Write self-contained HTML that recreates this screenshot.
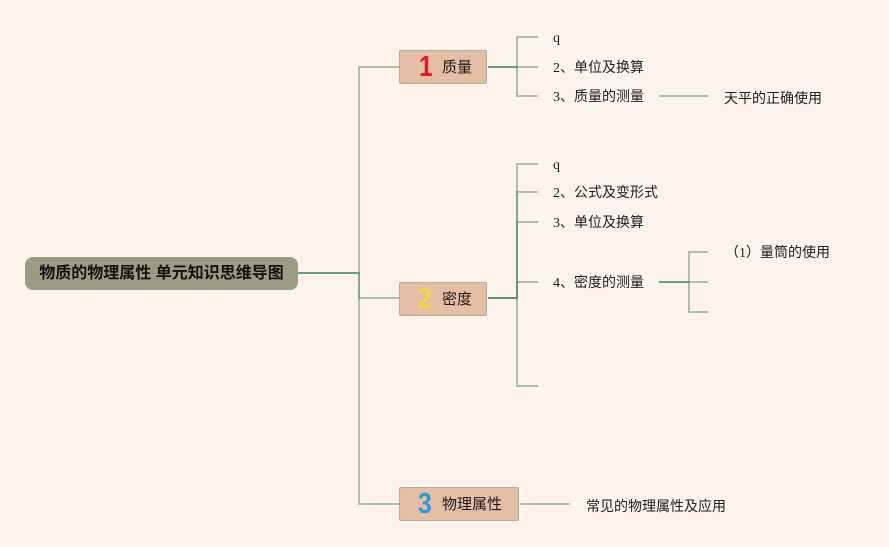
<!DOCTYPE html>
<html>
<head>
<meta charset="utf-8">
<style>
  html,body{margin:0;padding:0;}
  body{width:889px;height:547px;background:#fdf3ea;position:relative;overflow:hidden;
    font-family:"Liberation Serif","Noto Sans CJK SC",sans-serif;color:#1e1e1e;}
  svg{position:absolute;left:0;top:0;}
  .root{position:absolute;left:25px;top:257px;width:273px;height:33px;background:#9b9c83;border-radius:8px;
    font-family:"Liberation Sans","Noto Sans CJK SC",sans-serif;font-weight:700;font-size:16px;line-height:33px;
    text-align:center;color:#111;}
  .node{position:absolute;left:399px;width:86px;height:32px;background:#e6bea6;border:1.5px solid #a3b49f;border-radius:2px;}
  .num{position:absolute;top:0;height:32px;line-height:33px;font-family:"Liberation Sans",sans-serif;font-weight:700;font-size:29px;transform:scaleX(0.85);transform-origin:left center;}
  .nt{position:absolute;top:0;height:32px;line-height:34px;font-family:"Liberation Sans","Noto Sans CJK SC",sans-serif;font-size:15px;color:#1a1a1a;white-space:nowrap;}
  .t{position:absolute;height:20px;line-height:20px;font-size:14px;white-space:nowrap;}
  .c{font-family:"Liberation Sans","Noto Sans CJK SC",sans-serif;}
</style>
</head>
<body>
<svg width="889" height="547" viewBox="0 0 889 547">
  <g fill="none" stroke="rgba(85,141,115,0.5)" stroke-width="2">
    <path d="M298,273 H359 V67 H399"/>
    <path d="M298,273 H359 V298 H399"/>
    <path d="M298,273 H359 V504 H399"/>

    <path d="M488,67 H517 V37 H538"/>
    <path d="M488,67 H517 V67 H538"/>
    <path d="M488,67 H517 V96 H538"/>
    <path d="M659,96 H708"/>

    <path d="M488,298 H517 V164 H538"/>
    <path d="M488,298 H517 V192 H538"/>
    <path d="M488,298 H517 V222 H538"/>
    <path d="M488,298 H517 V282 H538"/>
    <path d="M488,298 H517 V386 H538"/>

    <path d="M659,282 H689 V252 H708"/>
    <path d="M659,282 H689 V282 H708"/>
    <path d="M659,282 H689 V312 H708"/>

    <path d="M520,504 H570"/>
  </g>
</svg>

<div class="root">物质的物理属性 单元知识思维导图</div>

<div class="node" style="top:50px;">
  <div class="num" style="left:19px;color:#e01b2a;">1</div>
  <div class="nt" style="left:42px;">质量</div>
</div>
<div class="node" style="top:282px;">
  <div class="num" style="left:18px;color:#f1d93f;">2</div>
  <div class="nt" style="left:42px;">密度</div>
</div>
<div class="node" style="top:487px;width:118px;">
  <div class="num" style="left:18px;color:#2a9bd9;">3</div>
  <div class="nt" style="left:42px;">物理属性</div>
</div>

<div class="t" style="left:553px;top:29px;">q</div>
<div class="t" style="left:553px;top:59px;">2、单位及换算</div>
<div class="t" style="left:553px;top:88px;">3、质量的测量</div>
<div class="t c" style="left:724px;top:88px;">天平的正确使用</div>

<div class="t" style="left:553px;top:156px;">q</div>
<div class="t" style="left:553px;top:184px;">2、公式及变形式</div>
<div class="t" style="left:553px;top:214px;">3、单位及换算</div>
<div class="t" style="left:553px;top:274px;">4、密度的测量</div>
<div class="t" style="left:725px;top:244px;">（1）量筒的使用</div>

<div class="t c" style="left:586px;top:496px;">常见的物理属性及应用</div>
</body>
</html>
